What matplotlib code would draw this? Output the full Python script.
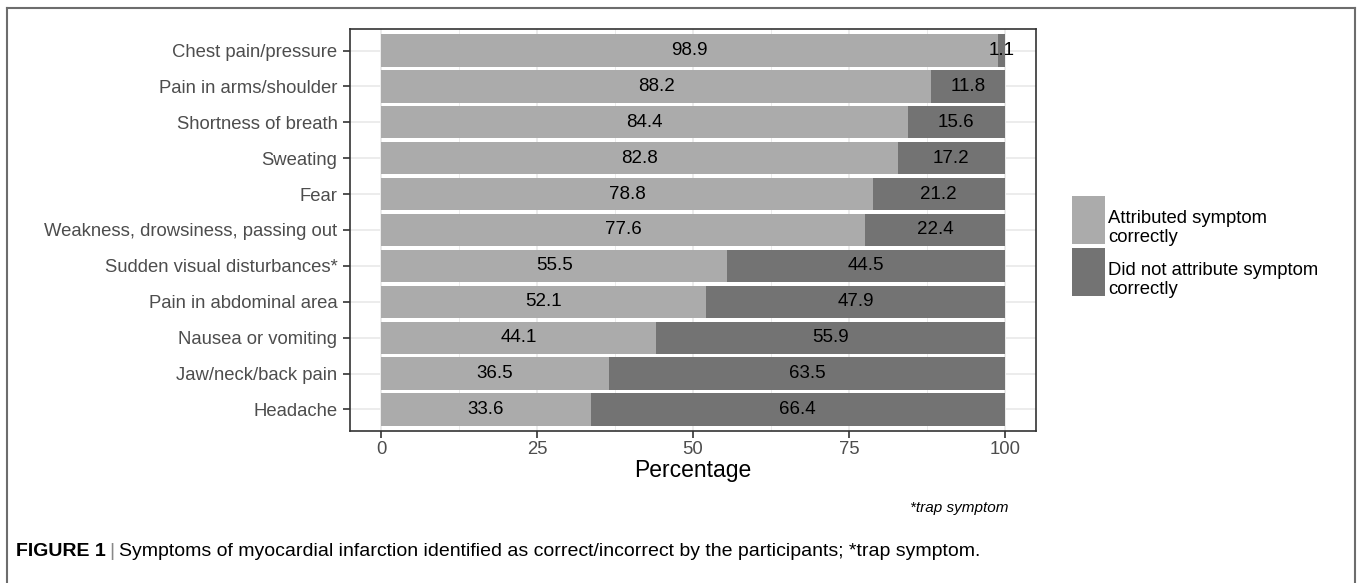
import matplotlib
matplotlib.use("Agg")
import matplotlib.pyplot as plt
from matplotlib.patches import Rectangle
from matplotlib.lines import Line2D

symptoms = ["Chest pain/pressure", "Pain in arms/shoulder", "Shortness of breath",
            "Sweating", "Fear", "Weakness, drowsiness, passing out",
            "Sudden visual disturbances*", "Pain in abdominal area",
            "Nausea or vomiting", "Jaw/neck/back pain", "Headache"]
correct = [98.9, 88.2, 84.4, 82.8, 78.8, 77.6, 55.5, 52.1, 44.1, 36.5, 33.6]
incorrect = [1.1, 11.8, 15.6, 17.2, 21.2, 22.4, 44.5, 47.9, 55.9, 63.5, 66.4]
xticks = [0, 25, 50, 75, 100]
legend_labels = ["Attributed symptom\ncorrectly", "Did not attribute symptom\ncorrectly"]

light = "#ababab"
dark = "#737373"

plt.rcParams['font.family'] = ['Liberation Sans', 'DejaVu Sans']

W, H = 1357, 583
fig = plt.figure(figsize=(W / 100, H / 100), dpi=100)
ax = fig.add_axes([350 / W, 1 - 431 / H, 686 / W, 402 / H])

ypos = list(range(len(symptoms)))
ax.barh(ypos, correct, height=0.9, color=light, zorder=2)
ax.barh(ypos, incorrect, left=correct, height=0.9, color=dark, zorder=2)

for y, c, i in zip(ypos, correct, incorrect):
    ax.text(c / 2, y, f"{c:.1f}", ha="center", va="center", fontsize=13.5, zorder=3)
    ax.text(c + i / 2, y, f"{i:.1f}", ha="center", va="center", fontsize=13.5, zorder=3)

ax.set_xlim(-5, 105)
ax.set_ylim(len(symptoms) - 0.4, -0.6)
ax.set_xticks(xticks)
ax.set_xticks([12.5, 37.5, 62.5, 87.5], minor=True)
ax.set_yticks(ypos)
ax.set_yticklabels(symptoms)
ax.tick_params(axis="both", which="major", length=5, width=1.2, color="#333333",
               labelsize=13.3, labelcolor="#4d4d4d")
ax.tick_params(axis="x", pad=2)
ax.tick_params(axis="y", pad=4)
ax.tick_params(which="minor", length=0)
ax.grid(True, which="major", color="#ebebeb", lw=1.3, zorder=0)
ax.grid(True, which="minor", axis="x", color="#ebebeb", lw=0.7, zorder=0)
ax.set_axisbelow(True)
for s in ax.spines.values():
    s.set_color("#333333")
    s.set_linewidth(1.2)

ax.set_xlabel("Percentage", fontsize=16.5)
ax.xaxis.set_label_coords(0.5, -40 / 402)
ax.xaxis.label.set_va("center")

# legend, drawn by hand in figure pixels
for k, (lab, col) in enumerate(zip(legend_labels, [light, dark])):
    top = 196 + k * 52
    fig.add_artist(Rectangle((1072 / W, 1 - (top + 48) / H), 33 / W, 48 / H,
                             facecolor=col, edgecolor="none"))
    fig.text(1108 / W, 1 - (top + 32) / H, lab, ha="left", va="center",
             fontsize=13.3, linespacing=1.2)

fig.text(1008 / W, 1 - 508 / H, "*trap symptom", ha="right", va="center",
         fontsize=11, style="italic")

# outer frame (no bottom edge)
fc = "#6d6d6d"
fig.add_artist(Line2D([7 / W, 1355 / W], [1 - 8 / H, 1 - 8 / H], color=fc, lw=1.5))
fig.add_artist(Line2D([7 / W, 7 / W], [0, 1 - 8 / H], color=fc, lw=1.5))
fig.add_artist(Line2D([1355 / W, 1355 / W], [0, 1 - 8 / H], color=fc, lw=1.5))

# caption
cy = 1 - 552 / H
t1 = fig.text(16 / W, cy, "FIGURE 1", ha="left", va="center", fontsize=14, weight="bold")
r = fig.canvas.get_renderer()
x1 = t1.get_window_extent(r).x1
t2 = fig.text((x1 + 4) / W, cy, "|", ha="left", va="center", fontsize=14, color="#888888")
x2 = t2.get_window_extent(r).x1
fig.text((x2 + 4) / W, cy,
         "Symptoms of myocardial infarction identified as correct/incorrect by the participants; *trap symptom.",
         ha="left", va="center", fontsize=14)

fig.savefig("out.png", dpi=100)
